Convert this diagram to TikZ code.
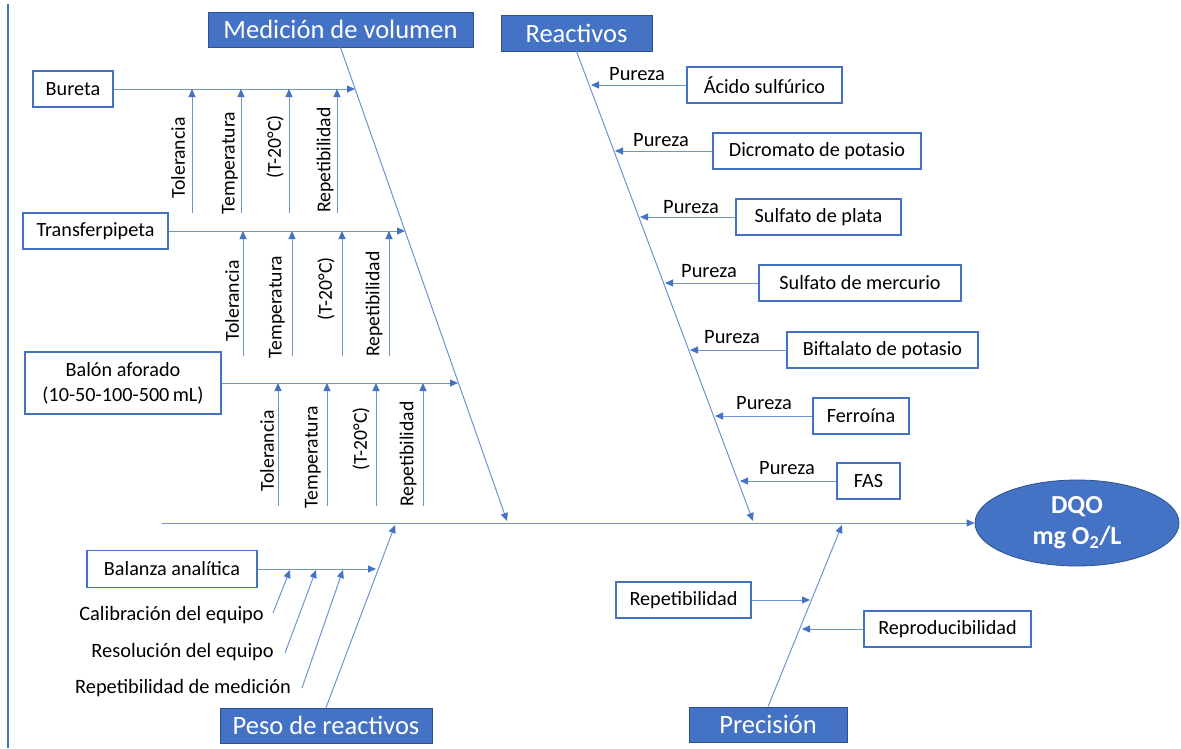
\documentclass[tikz,border=0pt]{standalone}
\usepackage{fontspec}
\setmainfont{Carlito}
\usetikzlibrary{arrows.meta,shapes.geometric}
\definecolor{acc}{RGB}{68,114,196}
\definecolor{lin}{RGB}{110,148,214}
\definecolor{edge}{RGB}{47,82,143}
\begin{document}
\begin{tikzpicture}[x=1pt,y=-1pt,
  cat/.style={draw=edge, line width=0.8pt, fill=acc, text=white, inner sep=0pt,
    font=\fontsize{26.5}{30}\selectfont},
  item/.style={draw=acc, line width=1.3pt, fill=white, text=black, inner sep=0pt,
    minimum height=36pt, font=\fontsize{20.2}{25}\selectfont, align=center},
  lbl/.style={inner sep=0pt, text=black, font=\fontsize{20.4}{24}\selectfont},
  vlbl/.style={inner sep=0pt, text=black, font=\fontsize{19.7}{23}\selectfont, rotate=90},
  bone/.style={draw=lin, line width=1pt},
  arr/.style={bone, -{Triangle[length=8pt,width=7pt,color=acc]}}
]
\useasboundingbox (0,0) rectangle (1181,748);
\fill[white] (0,0) rectangle (1181,748);
\draw[acc, line width=1.5pt] (8,4) -- (8,748);

% category nodes
\node[cat, minimum width=265pt, minimum height=35pt] (med) at (340.5,29.5) {Medición de volumen};
\node[cat, minimum width=151pt, minimum height=36pt] (rea) at (576.5,33) {Reactivos};
\node[cat, minimum width=212pt, minimum height=35pt] (pes) at (326,725.5) {Peso de reactivos};
\node[cat, minimum width=158pt, minimum height=35pt] (pre) at (768,724.5) {Precisión};
\node[ellipse, draw=edge, line width=0.8pt, fill=acc, text=white, inner sep=0pt,
  minimum width=204pt, minimum height=86pt, align=center,
  font=\fontsize{26}{31}\selectfont\bfseries] (dqo) at (1077,523) {DQO\\mg O\textsubscript{2}/L};

% spine
\coordinate (s0) at (162,523);
\draw[arr] (s0) -- (dqo.west);

% main bones
\coordinate (medtip) at (507,521);
\coordinate (reatip) at (753,521);
\coordinate (pestip) at (395,525);
\coordinate (pretip) at (842,525);
\draw[arr] (med.south) -- (medtip);
\draw[arr] (rea.south) -- (reatip);
\draw[arr] (pes.north) -- (pestip);
\draw[arr] (pre.north) -- (pretip);

% Medición de volumen branches
\node[item, minimum width=80pt] (bur) at (73,89) {Bureta};
\node[item, minimum width=145pt] (tra) at (95.5,231) {Transferpipeta};
\node[item, minimum width=196pt, minimum height=62pt] (bal) at (123,383) {Balón aforado\\(10-50-100-500\,mL)};
\coordinate (bt) at (355,89);
\coordinate (tt) at (405,231);
\coordinate (lt) at (458,383);
\draw[arr] (bur.east) -- (bt);
\draw[arr] (tra.east) -- (tt);
\draw[arr] (bal.east) -- (lt);

% vertical sub-causes
\foreach \x in {192,241,289,337} \draw[arr] (\x,213) -- (\x,89);
\foreach \x in {243,292,342,389} \draw[arr] (\x,356) -- (\x,231);
\foreach \x in {278,327,376,423} \draw[arr] (\x,506) -- (\x,383);

\node[vlbl] (g1a) at (178,158) {Tolerancia};
\node[vlbl] (g1b) at (230,163) {Temperatura};
\node[vlbl] (g1c) at (275,147) {(T-20°C)};
\node[vlbl] (g1d) at (325,160) {Repetibilidad};
\node[vlbl] (g2a) at (232,301) {Tolerancia};
\node[vlbl] (g2b) at (277,307) {Temperatura};
\node[vlbl] (g2c) at (326,289) {(T-20°C)};
\node[vlbl] (g2d) at (374,304) {Repetibilidad};
\node[vlbl] (g3a) at (267,451) {Tolerancia};
\node[vlbl] (g3b) at (313,457) {Temperatura};
\node[vlbl] (g3c) at (361,439) {(T-20°C)};
\node[vlbl] (g3d) at (408,454) {Repetibilidad};

% Reactivos branches
\node[item, minimum width=155pt] (r1) at (764.5,85) {Ácido sulfúrico};
\node[item, minimum width=208pt] (r2) at (817,151) {Dicromato de potasio};
\node[item, minimum width=165pt] (r3) at (818.5,217) {Sulfato de plata};
\node[item, minimum width=202pt] (r4) at (860,283) {Sulfato de mercurio};
\node[item, minimum width=191pt] (r5) at (882.5,350) {Biftalato de potasio};
\node[item, minimum width=96pt] (r6) at (861,416) {Ferroína};
\node[item, minimum width=63pt] (r7) at (868.5,481) {FAS};
\coordinate (t1) at (591,85);
\coordinate (t2) at (615,151);
\coordinate (t3) at (640,217);
\coordinate (t4) at (665,283);
\coordinate (t5) at (690,350);
\coordinate (t6) at (715,416);
\coordinate (t7) at (740,481);
\foreach \i in {1,...,7} \draw[arr] (r\i.west) -- (t\i);
\node[lbl] (p1) at (637,74) {Pureza};
\node[lbl] (p2) at (661,140) {Pureza};
\node[lbl] (p3) at (691,207) {Pureza};
\node[lbl] (p4) at (709,271) {Pureza};
\node[lbl] (p5) at (732,337) {Pureza};
\node[lbl] (p6) at (764,403) {Pureza};
\node[lbl] (p7) at (787,468) {Pureza};

% Peso de reactivos branches
\node[item, minimum width=170pt, minimum height=37pt] (bza) at (172,569) {Balanza analítica};
\coordinate (zt) at (376,569);
\draw[arr] (bza.east) -- (zt);
\coordinate (c1) at (273,613);
\coordinate (c2) at (285,653);
\coordinate (c3) at (302,688);
\draw[arr] (c1) -- (290,570);
\draw[arr] (c2) -- (316,570);
\draw[arr] (c3) -- (343,570);
\node[lbl, anchor=east] (l1) at (264,615) {Calibración del equipo};
\node[lbl, anchor=east] (l2) at (274,652) {Resolución del equipo};
\node[lbl, anchor=east] (l3) at (291,688) {Repetibilidad de medición};

% Precisión branches
\node[item, minimum width=135pt] (rep) at (683.5,600) {Repetibilidad};
\node[item, minimum width=167pt] (rpr) at (947.5,629) {Reproducibilidad};
\coordinate (pt1) at (810,600);
\coordinate (pt2) at (802,629);
\draw[arr] (rep.east) -- (pt1);
\draw[arr] (rpr.west) -- (pt2);
\end{tikzpicture}
\end{document}
